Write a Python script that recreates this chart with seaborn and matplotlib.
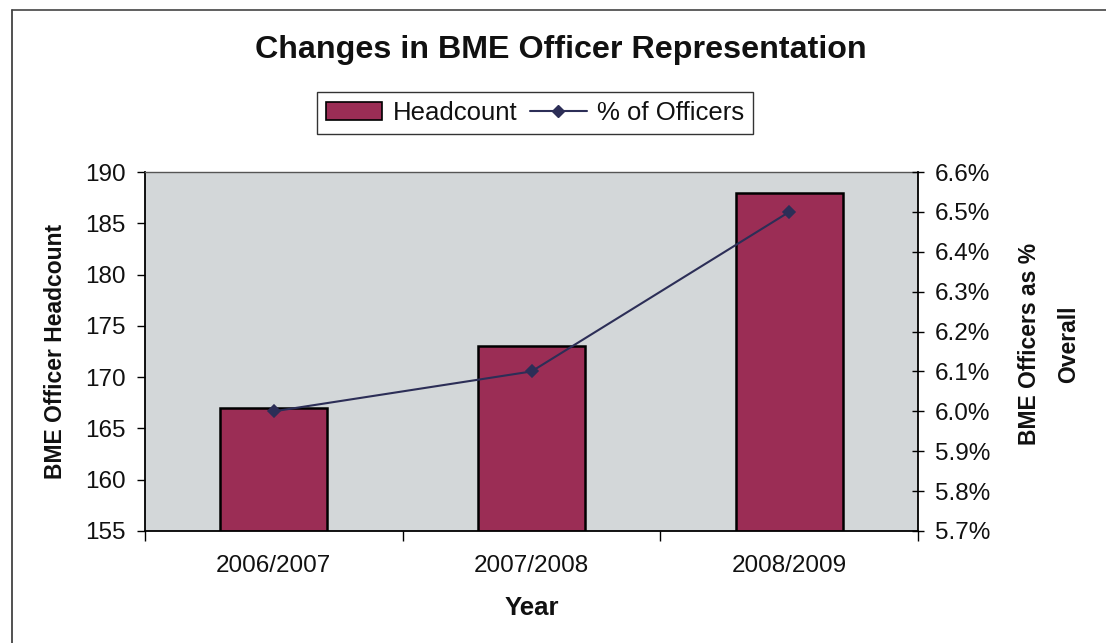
import matplotlib
matplotlib.use("Agg")
import matplotlib.pyplot as plt
import seaborn as sns
import pandas as pd
from matplotlib.patches import Patch
from matplotlib.lines import Line2D
from matplotlib.ticker import FixedLocator, FuncFormatter

years = ["2006/2007", "2007/2008", "2008/2009"]
headcount = [167, 173, 188]
pct_officers = [6.0, 6.1, 6.5]
left_ticks = [155, 160, 165, 170, 175, 180, 185, 190]
right_ticks = [5.7, 5.8, 5.9, 6.0, 6.1, 6.2, 6.3, 6.4, 6.5, 6.6]

sns.set_theme(style="white")
plt.rcParams["font.family"] = ["Liberation Sans", "DejaVu Sans"]

df = pd.DataFrame({"Year": years, "Headcount": headcount, "Pct": pct_officers})

fig = plt.figure(figsize=(11.06, 6.43), dpi=100)
ax = fig.add_axes([0.1311, 0.1742, 0.699, 0.5583])
ax.set_facecolor("#D3D7D9")

bar_color = "#9B2D55"
line_color = "#2C2E57"
txt = "#111111"

sns.barplot(data=df, x="Year", y="Headcount", color=bar_color, width=0.415,
            edgecolor="black", linewidth=1.8, saturation=1, ax=ax)
ax.set_ylim(155, 190)
ax.set_xlim(-0.5, 2.5)
ax.yaxis.set_major_locator(FixedLocator(left_ticks))

ax2 = ax.twinx()
sns.pointplot(data=df, x="Year", y="Pct", color=line_color, markers="D",
              linestyles="-", ax=ax2, markersize=6, linewidth=1.5)
ax2.set_ylim(5.7, 6.6)
ax2.set_xlim(-0.5, 2.5)
ax2.yaxis.set_major_locator(FixedLocator(right_ticks))
ax2.yaxis.set_major_formatter(FuncFormatter(lambda v, p: f"{v:.1f}%"))

for a in (ax, ax2):
    for s in a.spines.values():
        s.set_visible(False)
for name in ("left", "bottom"):
    ax.spines[name].set_visible(True)
    ax.spines[name].set_color("black")
    ax.spines[name].set_linewidth(1.3)
ax.spines["top"].set_visible(True)
ax.spines["top"].set_color("#555555")
ax.spines["top"].set_linewidth(1.0)
ax2.spines["right"].set_visible(True)
ax2.spines["right"].set_color("black")
ax2.spines["right"].set_linewidth(1.3)

ax.tick_params(axis="y", which="major", direction="out", length=6, width=1,
               color="black", left=True, labelsize=17.5, pad=8, labelcolor=txt)
ax2.tick_params(axis="y", which="major", direction="inout", length=8, width=1,
                color="black", right=True, labelsize=17.5, pad=8, labelcolor=txt)
ax.set_xticks([0, 1, 2])
ax.set_xticklabels(years)
ax.set_xticks([-0.5, 0.5, 1.5, 2.5], minor=True)
ax.tick_params(axis="x", which="major", length=0, labelsize=17.5, pad=17, labelcolor=txt)
ax.tick_params(axis="x", which="minor", direction="out", length=7, width=1,
               color="black", bottom=True)
ax2.set_xlabel("")

ax.set_xlabel("Year", fontsize=18.5, fontweight="bold", color=txt)
ax.xaxis.set_label_coords(0.5, -0.18)
ax.set_ylabel("BME Officer Headcount", fontsize=16.5, fontweight="bold", color=txt)
ax.yaxis.set_label_coords(-0.101, 0.5)
ax2.set_ylabel("BME Officers as %\nOverall", fontsize=16.5, fontweight="bold",
               rotation=90, va="center", linespacing=1.9, color=txt)
ax2.yaxis.set_label_coords(1.17, 0.52)

fig.text(0.507, 0.922, "Changes in BME Officer Representation", ha="center",
         va="center", fontsize=23.2, fontweight="bold", color=txt)

handles = [Patch(facecolor=bar_color, edgecolor="black", linewidth=1.2),
           Line2D([0], [0], color=line_color, marker="D", markersize=6, linewidth=1.5)]
leg = fig.legend(handles, ["Headcount", "% of Officers"], loc="center",
                 bbox_to_anchor=(0.4837, 0.8250), ncol=2, frameon=True, fancybox=False,
                 fontsize=18.5, handlelength=2.2, handletextpad=0.4, columnspacing=0.5,
                 borderpad=0.35, edgecolor="black", labelcolor=txt)
leg.get_frame().set_linewidth(1.0)

# outer chart border
fig.add_artist(Line2D([0.011, 0.011], [0.0, 0.984], transform=fig.transFigure,
                      color="#333333", linewidth=1.2))
fig.add_artist(Line2D([0.011, 1.0], [0.984, 0.984], transform=fig.transFigure,
                      color="#444444", linewidth=1.2))

fig.savefig("out.png", dpi=100)
